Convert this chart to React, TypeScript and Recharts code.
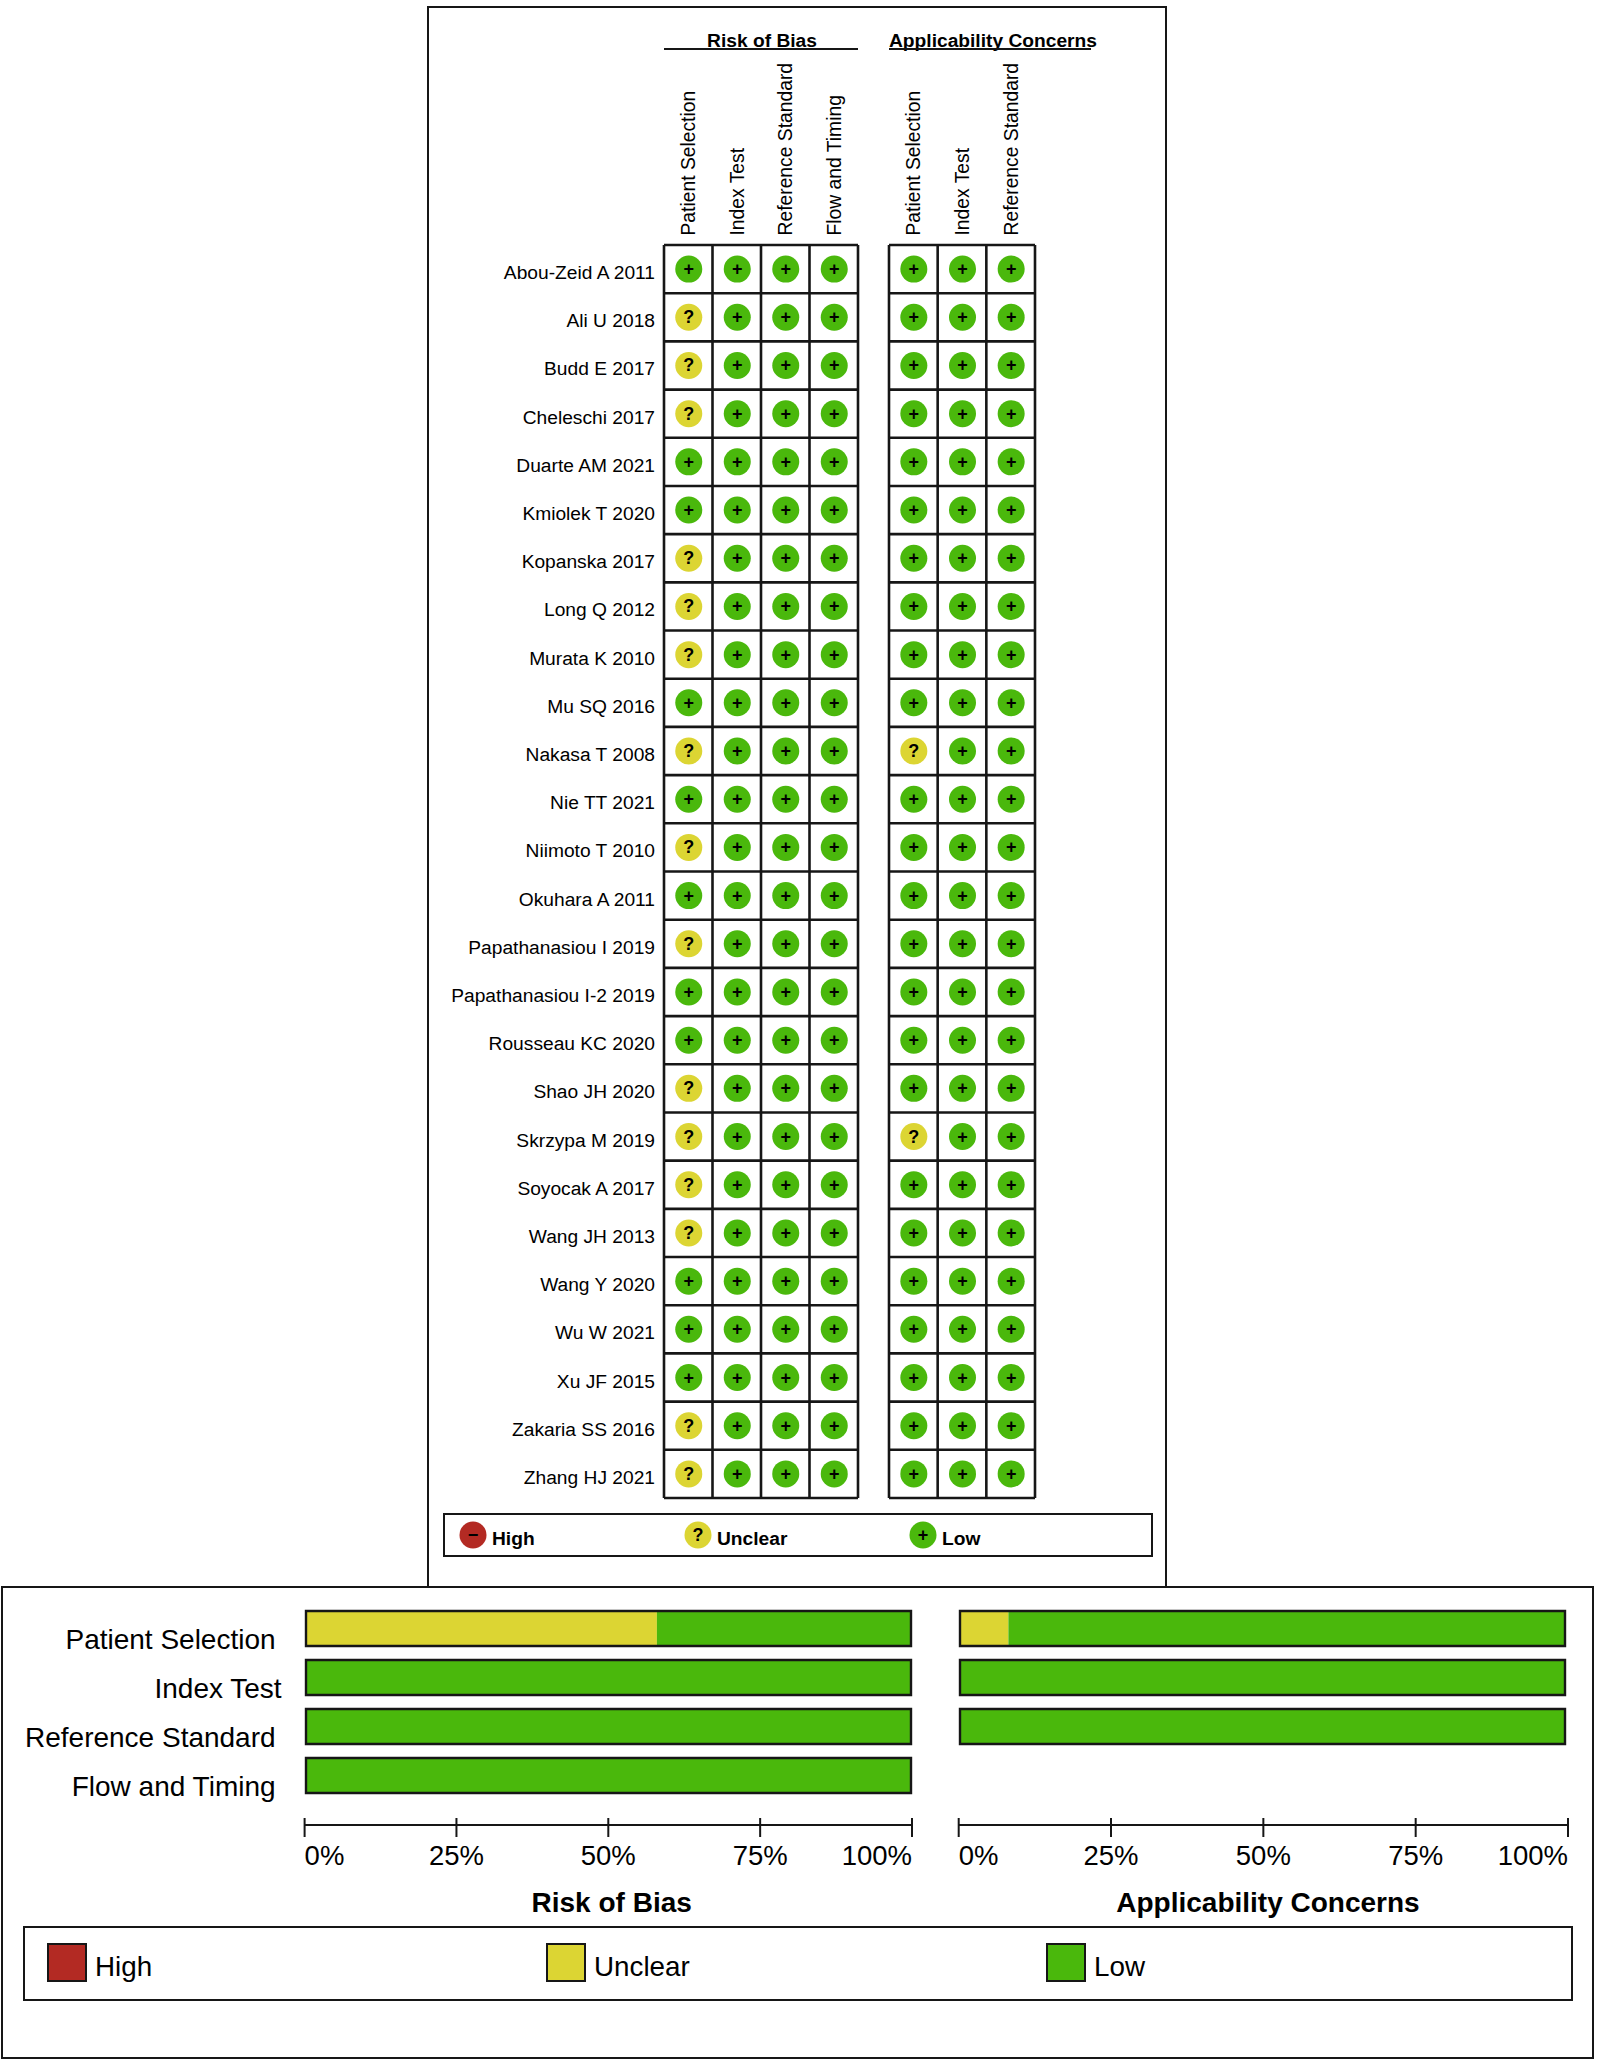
import { Bar, BarChart, CartesianGrid, Scatter, ScatterChart, XAxis, YAxis } from 'recharts';

const STUDIES = [
  'Abou-Zeid A 2011', 'Ali U 2018', 'Budd E 2017', 'Cheleschi 2017', 'Duarte AM 2021', 'Kmiolek T 2020',
  'Kopanska 2017', 'Long Q 2012', 'Murata K 2010', 'Mu SQ 2016', 'Nakasa T 2008', 'Nie TT 2021',
  'Niimoto T 2010', 'Okuhara A 2011', 'Papathanasiou I 2019', 'Papathanasiou I-2 2019', 'Rousseau KC 2020',
  'Shao JH 2020', 'Skrzypa M 2019', 'Soyocak A 2017', 'Wang JH 2013', 'Wang Y 2020', 'Wu W 2021',
  'Xu JF 2015', 'Zakaria SS 2016', 'Zhang HJ 2021',
];

// L = low, U = unclear, one letter per study
const RISK_PATIENT = ['L','U','U','U','L','L','U','U','U','L','U','L','U','L','U','L','L','U','U','U','U','L','L','L','U','U'];
const RISK_INDEX = ['L','L','L','L','L','L','L','L','L','L','L','L','L','L','L','L','L','L','L','L','L','L','L','L','L','L'];
const RISK_REFERENCE = ['L','L','L','L','L','L','L','L','L','L','L','L','L','L','L','L','L','L','L','L','L','L','L','L','L','L'];
const RISK_FLOW = ['L','L','L','L','L','L','L','L','L','L','L','L','L','L','L','L','L','L','L','L','L','L','L','L','L','L'];
const APPL_PATIENT = ['L','L','L','L','L','L','L','L','L','L','U','L','L','L','L','L','L','L','U','L','L','L','L','L','L','L'];
const APPL_INDEX = ['L','L','L','L','L','L','L','L','L','L','L','L','L','L','L','L','L','L','L','L','L','L','L','L','L','L'];
const APPL_REFERENCE = ['L','L','L','L','L','L','L','L','L','L','L','L','L','L','L','L','L','L','L','L','L','L','L','L','L','L'];

const RISK_DOMAINS = ['Patient Selection', 'Index Test', 'Reference Standard', 'Flow and Timing'];
const APPL_DOMAINS = ['Patient Selection', 'Index Test', 'Reference Standard'];

const RISK_UNCLEAR = [58, 0, 0, 0];
const RISK_LOW = [42, 100, 100, 100];
const APPL_UNCLEAR = [8, 0, 0];
const APPL_LOW = [92, 100, 100];

const PERCENT_TICKS = [0, 25, 50, 75, 100];

const GREEN = '#4ab80c';
const YELLOW = '#dcd533';
const RED = '#b32a23';
const INK = '#161616';
const FONT = '"Liberation Sans", Arial, sans-serif';

const columnPoints = (levels: string[], col: number) =>
  levels.map((level, row) => ({ col: col + 0.5, row: row + 0.5, level }));

const centers = (count: number) => Array.from({ length: count }, (_, i) => i + 0.5);
const edges = (count: number) => Array.from({ length: count + 1 }, (_, i) => i);

function Light({ cx, cy, color, mark }: { cx: number; cy: number; color: string; mark: string }) {
  return (
    <g>
      <circle cx={cx} cy={cy} r={13.5} fill={color} />
      <text x={cx} y={cy + 6} textAnchor="middle" fontFamily={FONT} fontWeight="bold" fontSize={18} fill="#000">
        {mark}
      </text>
    </g>
  );
}

function SignalShape(props: any) {
  const unclear = props.payload.level === 'U';
  return <Light cx={props.cx + 0.5} cy={props.cy} color={unclear ? YELLOW : GREEN} mark={unclear ? '?' : '+'} />;
}

function StudyTick({ x, y, payload }: any) {
  return (
    <text x={x} y={y + 10} textAnchor="end" fontFamily={FONT} fontSize={19.2} fill="#000">
      {STUDIES[Math.floor(payload.value)]}
    </text>
  );
}

function domainTick(names: string[]) {
  return function DomainTick({ x, y, payload }: any) {
    const bx = x + 7;
    const by = y - 7.5;
    return (
      <text x={bx} y={by} transform={`rotate(-90 ${bx} ${by})`} fontFamily={FONT} fontSize={19.3} fill="#000">
        {names[Math.floor(payload.value)]}
      </text>
    );
  };
}

function TrafficChart({ left, width, margin, yAxisWidth, names, columns }: any) {
  return (
    <div style={{ position: 'absolute', left, top: 0 }}>
      <ScatterChart width={width} height={1510} margin={{ top: 0, right: margin.right, bottom: 12, left: margin.left }}>
        <CartesianGrid
          stroke={INK}
          strokeWidth={2.6}
          verticalValues={edges(names.length)}
          horizontalValues={edges(STUDIES.length)}
        />
        <XAxis
          type="number"
          dataKey="col"
          orientation="top"
          height={245}
          domain={[0, names.length]}
          ticks={centers(names.length)}
          interval={0}
          axisLine={false}
          tickLine={false}
          tickSize={0}
          tick={domainTick(names)}
        />
        <YAxis
          type="number"
          dataKey="row"
          reversed
          width={yAxisWidth}
          hide={yAxisWidth === 0}
          domain={[0, STUDIES.length]}
          ticks={centers(STUDIES.length)}
          interval={0}
          axisLine={false}
          tickLine={false}
          tickSize={0}
          tickMargin={9}
          tick={StudyTick}
        />
        {columns.map((levels: string[], i: number) => (
          <Scatter key={i} data={columnPoints(levels, i)} shape={SignalShape} isAnimationActive={false} />
        ))}
      </ScatterChart>
    </div>
  );
}

function PercentTick({ x, y, payload }: any) {
  const anchor = payload.value === 0 ? 'start' : payload.value === 100 ? 'end' : 'middle';
  return (
    <g>
      <line x1={x} x2={x} y1={y - 9} y2={y + 10} stroke={INK} strokeWidth={2} />
      <text x={x} y={y + 38} textAnchor={anchor} fontFamily={FONT} fontSize={27.5} fill="#000">
        {payload.value}%
      </text>
    </g>
  );
}

// the labels do not line up in the original, Index Test sits further right
function CategoryTick({ x, y, payload }: any) {
  const nudge = payload.value === 'Index Test' ? 6 : 0;
  return (
    <text x={x + nudge} y={y + 20.5} textAnchor="end" fontFamily={FONT} fontSize={28} fill="#000">
      {payload.value}
    </text>
  );
}

function SummaryChart({ left, width, margin, yAxisWidth, names, unclear, low, barPad, bottomPad }: any) {
  const data = names.map((name: string, i: number) => ({
    name,
    unclear: unclear[i],
    low: low[i],
    total: unclear[i] + low[i],
  }));
  return (
    <div style={{ position: 'absolute', left, top: 1590 }}>
      <BarChart
        width={width}
        height={335}
        layout="vertical"
        data={data}
        barSize={35}
        margin={{ top: 14, right: margin.right, bottom: 0, left: margin.left }}
      >
        <XAxis xAxisId="bars" type="number" hide height={0} domain={[0, 100]} padding={barPad} />
        <XAxis
          xAxisId="ticks"
          type="number"
          height={100}
          domain={[0, 100]}
          ticks={PERCENT_TICKS}
          interval={0}
          axisLine={{ stroke: INK, strokeWidth: 2 }}
          tickLine={false}
          tickSize={0}
          tick={PercentTick}
        />
        <YAxis
          yAxisId="bands"
          type="category"
          dataKey="name"
          width={yAxisWidth}
          hide={yAxisWidth === 0}
          padding={{ top: 0, bottom: bottomPad }}
          interval={0}
          axisLine={false}
          tickLine={false}
          tickSize={0}
          tickMargin={29}
          tick={CategoryTick}
        />
        <YAxis yAxisId="outline" type="category" dataKey="name" hide padding={{ top: 0, bottom: bottomPad }} />
        <YAxis yAxisId="carrier" type="category" dataKey="name" hide padding={{ top: 0, bottom: bottomPad }} />
        <Bar xAxisId="bars" yAxisId="bands" dataKey="unclear" stackId="a" fill={YELLOW} isAnimationActive={false} />
        <Bar xAxisId="bars" yAxisId="bands" dataKey="low" stackId="a" fill={GREEN} isAnimationActive={false} />
        <Bar
          xAxisId="bars"
          yAxisId="outline"
          dataKey="total"
          fill="none"
          stroke={INK}
          strokeWidth={2.4}
          isAnimationActive={false}
        />
        {/* empty series so the tick axis has something to scale */}
        <Bar xAxisId="ticks" yAxisId="carrier" dataKey="total" fill="none" stroke="none" isAnimationActive={false} />
      </BarChart>
    </div>
  );
}

const TOP_LEGEND = [
  { label: 'High', color: RED, mark: '−', cx: 473 },
  { label: 'Unclear', color: YELLOW, mark: '?', cx: 698 },
  { label: 'Low', color: GREEN, mark: '+', cx: 923 },
];

const BOTTOM_LEGEND = [
  { label: 'High', color: RED, x: 47 },
  { label: 'Unclear', color: YELLOW, x: 546 },
  { label: 'Low', color: GREEN, x: 1046 },
];

function Frames() {
  return (
    <svg width={1600} height={2060} style={{ position: 'absolute', left: 0, top: 0 }} fontFamily={FONT}>
      <rect x={0} y={0} width={1600} height={2060} fill="#fff" />
      <rect x={428} y={7} width={738} height={1580} fill="#fff" stroke={INK} strokeWidth={2} />
      <rect x={2} y={1587} width={1591} height={471} fill="#fff" stroke={INK} strokeWidth={2} />

      <text x={762} y={47} textAnchor="middle" fontWeight="bold" fontSize={19.2}>Risk of Bias</text>
      <line x1={664} x2={858} y1={49} y2={49} stroke={INK} strokeWidth={2} />
      <text x={889} y={47} fontWeight="bold" fontSize={19.2}>Applicability Concerns</text>
      <line x1={889} x2={1091} y1={49} y2={49} stroke={INK} strokeWidth={2} />

      <rect x={444} y={1514} width={708} height={42} fill="none" stroke={INK} strokeWidth={2} />
      {TOP_LEGEND.map((d) => (
        <g key={d.label}>
          <Light cx={d.cx} cy={1535} color={d.color} mark={d.mark} />
          <text x={d.cx + 19} y={1545} fontWeight="bold" fontSize={19.2}>{d.label}</text>
        </g>
      ))}

      <text x={611.7} y={1912} textAnchor="middle" fontWeight="bold" fontSize={28}>Risk of Bias</text>
      <text x={1268} y={1912} textAnchor="middle" fontWeight="bold" fontSize={28}>Applicability Concerns</text>

      <rect x={24} y={1927} width={1548} height={73} fill="none" stroke={INK} strokeWidth={2} />
      {BOTTOM_LEGEND.map((d) => (
        <g key={d.label}>
          <rect x={d.x + 1} y={1944} width={38} height={37} fill={d.color} stroke={INK} strokeWidth={2} />
          <text x={d.x + 48} y={1976} fontSize={27.8}>{d.label}</text>
        </g>
      ))}
    </svg>
  );
}

export default function App() {
  return (
    <div style={{ position: 'absolute', left: 0, top: 0, width: 1600, height: 2060, background: '#fff' }}>
      <Frames />
      <TrafficChart
        left={0}
        width={900}
        margin={{ left: 0, right: 42 }}
        yAxisWidth={664}
        names={RISK_DOMAINS}
        columns={[RISK_PATIENT, RISK_INDEX, RISK_REFERENCE, RISK_FLOW]}
      />
      <TrafficChart
        left={870}
        width={200}
        margin={{ left: 19, right: 35 }}
        yAxisWidth={0}
        names={APPL_DOMAINS}
        columns={[APPL_PATIENT, APPL_INDEX, APPL_REFERENCE]}
      />
      <SummaryChart
        left={0}
        width={950}
        margin={{ left: 0, right: 38 }}
        yAxisWidth={304.6}
        names={RISK_DOMAINS}
        unclear={RISK_UNCLEAR}
        low={RISK_LOW}
        barPad={{ left: 1.4, right: 1 }}
        bottomPad={25}
      />
      <SummaryChart
        left={950}
        width={650}
        margin={{ left: 8.7, right: 32 }}
        yAxisWidth={0}
        names={APPL_DOMAINS}
        unclear={APPL_UNCLEAR}
        low={APPL_LOW}
        barPad={{ left: 1.3, right: 3 }}
        bottomPad={74}
      />
    </div>
  );
}
